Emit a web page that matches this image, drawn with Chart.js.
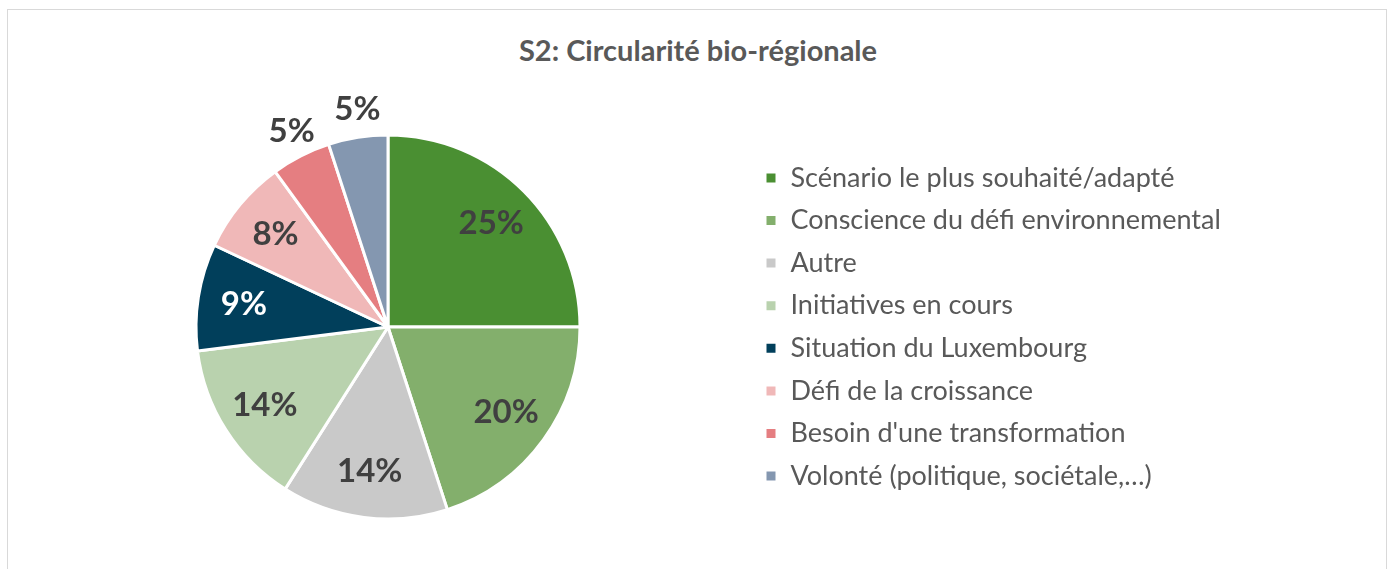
<!DOCTYPE html>
<html lang="fr">
<head>
<meta charset="utf-8">
<title>S2: Circularité bio-régionale</title>
<script src="https://cdn.jsdelivr.net/npm/chart.js@4/dist/chart.umd.min.js"></script>
<style>
  html, body { margin: 0; padding: 0; background: #fff; overflow: hidden; }
  #wrap { position: relative; width: 1389px; height: 569px; }
  #frame {
    position: absolute; left: 7px; top: 9px; width: 1380px; height: 620px;
    border: 1px solid #d9d9d9; box-sizing: border-box;
  }
  #title {
    position: absolute; left: 7px; width: 1382px; top: 33px;
    text-align: center; font: 700 29px Lato, "Open Sans", sans-serif;
    line-height: 34px; color: #595959;
  }
  #pie { position: absolute; left: 0; top: 0; }
</style>
</head>
<body>
<div id="wrap">
  <div id="frame"></div>
  <div id="title">S2: Circularité bio-régionale</div>
  <canvas id="pie" width="1389" height="569"></canvas>
</div>
<script>
// === DONNÉES ===
const LABELS = [
  'Scénario le plus souhaité/adapté',
  'Conscience du défi environnemental',
  'Autre',
  'Initiatives en cours',
  'Situation du Luxembourg',
  'Défi de la croissance',
  "Besoin d'une transformation",
  'Volonté (politique, sociétale,…)'
];
const VALUES = [25, 20, 14, 14, 9, 8, 5, 5];
const COLORS = ['#4a8f32', '#83af6c', '#c9c9c9', '#b9d2ae', '#013f5b', '#f0b8b8', '#e57e81', '#8497b0'];

// === STYLE ===
const FONT      = 'Lato, "Open Sans", sans-serif';
const TEXT      = '#595959';
const LABEL_TXT = '#404040';
const LEG_SIZE  = 27;
const LEG_PAD   = 15.6;
const BOX       = 12;
const RADIUS    = 192;
const CENTER_X  = 393;   // centre du camembert (corrigé du décalage du layout)
const BOX_X     = 775;   // position du premier carré de légende

function pct(v, t){ return t ? Math.round((v / t) * 100) : 0; }

// largeur du texte le plus long de la légende (pour caler le padding droit)
function maxTextWidth(labels, font){
  const ctx = document.createElement('canvas').getContext('2d');
  ctx.font = font;
  return Math.max(...labels.map(s => ctx.measureText(s).width));
}

// étiquettes de pourcentage : dedans, ou dehors pour les petites parts
function sliceLabelsPlugin(values){
  return {
    id: 'sliceLabels',
    afterDraw(chart){
      const meta = chart.getDatasetMeta(0);
      const total = values.reduce((s, x) => s + x, 0) || 1;
      const { ctx } = chart;
      ctx.save();
      ctx.textAlign = 'center';
      ctx.textBaseline = 'middle';
      ctx.font = `700 33px ${FONT}`;
      meta.data.forEach((arc, i) => {
        const p = pct(values[i], total);
        const angle = (arc.startAngle + arc.endAngle) / 2;
        const outside = p <= 5;
        const r = outside ? arc.outerRadius + 29 : arc.outerRadius * 0.76;
        const x = arc.x + Math.cos(angle) * r + (outside ? 4 : 0);
        const y = arc.y + Math.sin(angle) * r + (outside ? 1 : 0);
        ctx.fillStyle = (i === 4) ? '#ffffff' : LABEL_TXT;
        ctx.fillText(p + '%', x, y);
      });
      ctx.restore();
    }
  };
}

function renderPie(canvas){
  const textW = maxTextWidth(LABELS, `400 ${LEG_SIZE}px ${FONT}`);
  const legendLeft = BOX_X - LEG_PAD;
  const legendW = LEG_PAD + BOX + LEG_SIZE / 2 + textW;
  const padLeft = 2 * CENTER_X - legendLeft;
  const padRight = Math.max(0, canvas.width - legendLeft - legendW);

  new Chart(canvas.getContext('2d'), {
    type: 'pie',
    data: {
      labels: LABELS,
      datasets: [{
        data: VALUES,
        backgroundColor: COLORS,
        borderColor: '#ffffff',
        borderWidth: 3,
        hoverOffset: 0
      }]
    },
    options: {
      responsive: false,
      animation: false,
      radius: RADIUS,
      layout: { padding: { top: 136, bottom: 51, left: padLeft, right: padRight } },
      plugins: {
        title: { display: false },
        tooltip: { enabled: false },
        legend: {
          position: 'right',
          align: 'center',
          fullSize: false,
          labels: {
            boxWidth: BOX,
            boxHeight: BOX,
            padding: LEG_PAD,
            color: TEXT,
            font: { family: FONT, size: LEG_SIZE, weight: '400' }
          }
        }
      }
    },
    plugins: [sliceLabelsPlugin(VALUES)]
  });
}

function boot(){
  renderPie(document.getElementById('pie'));
}

if (document.readyState === 'loading'){
  document.addEventListener('DOMContentLoaded', boot, { once: true });
} else {
  boot();
}
</script>
</body>
</html>
